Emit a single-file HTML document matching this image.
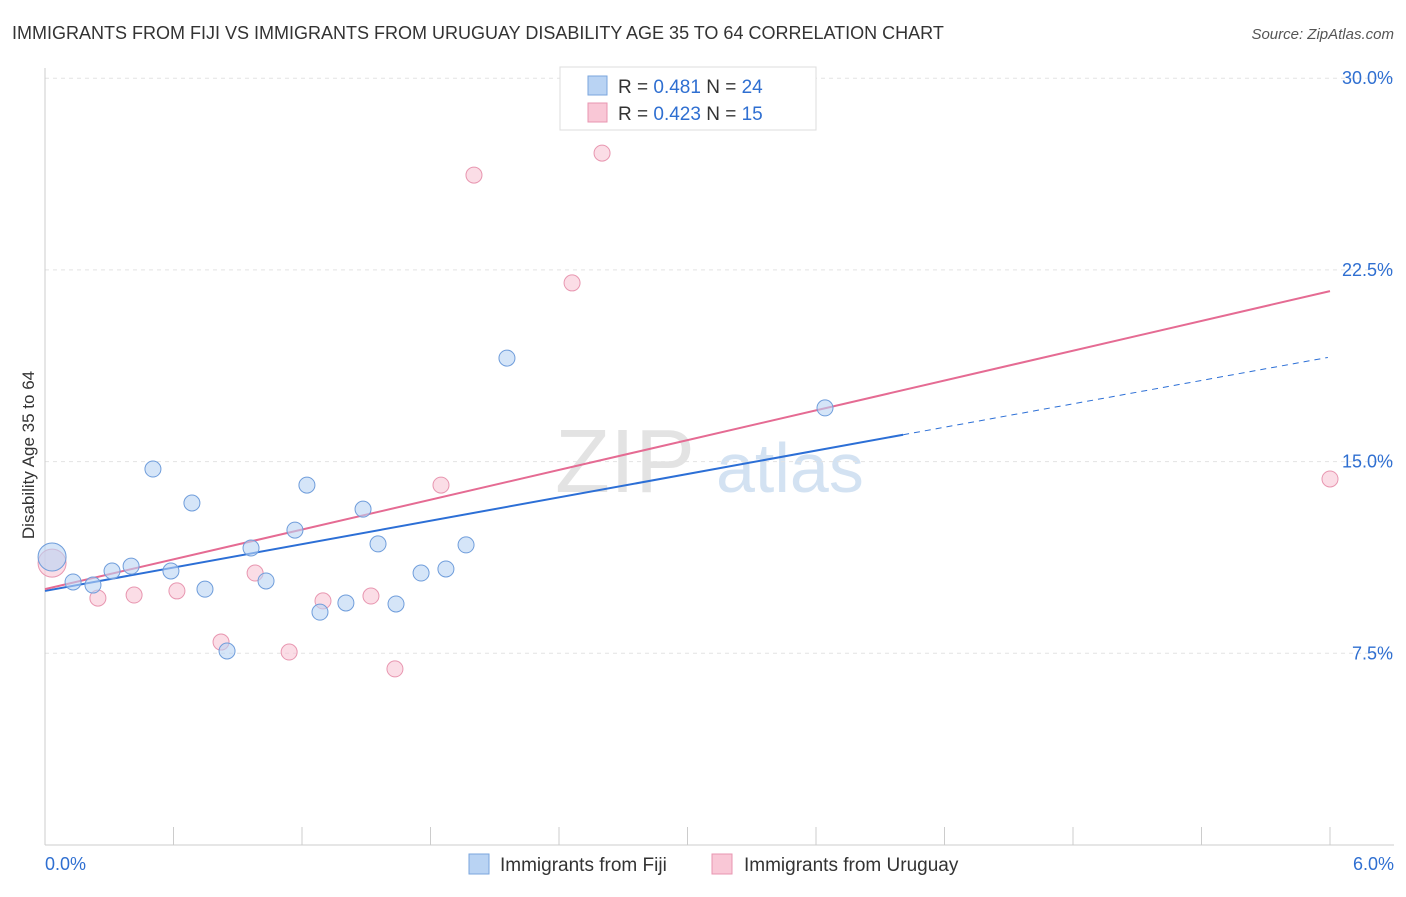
<!DOCTYPE html>
<html><head><meta charset="utf-8"><style>
body{margin:0;background:#fff;font-family:"Liberation Sans",sans-serif;}
svg text{font-family:"Liberation Sans",sans-serif;}
</style></head><body>
<svg id="c" width="1406" height="892">
<text x="12" y="39" font-size="18" fill="#333">IMMIGRANTS FROM FIJI VS IMMIGRANTS FROM URUGUAY DISABILITY AGE 35 TO 64 CORRELATION CHART</text>
<text x="1394" y="39" font-size="15" fill="#555" text-anchor="end" font-style="italic">Source: ZipAtlas.com</text>
<text x="34" y="455" font-size="17" fill="#333" text-anchor="middle" transform="rotate(-90 34 455)">Disability Age 35 to 64</text>
<g><text x="555" y="492" font-size="90" fill="#ddd" font-family="Liberation Serif" opacity="0.8">ZIP</text><text x="716" y="492" font-size="70" fill="#c9dcf0" opacity="0.8">atlas</text></g>
<g id="grid"></g><g id="axes"></g><g id="lines"></g><g id="pts"></g>
<g>
<rect x="560" y="67" width="256" height="63" fill="#fff" stroke="#ddd"/>
<rect x="588" y="76" width="19" height="19" fill="#b9d3f3" stroke="#7aa6de"/>
<text x="618" y="93" font-size="19" fill="#333">R = <tspan fill="#2f6fd1">0.481</tspan>   N = <tspan fill="#2f6fd1">24</tspan></text>
<rect x="588" y="103" width="19" height="19" fill="#f9c7d6" stroke="#e896b0"/>
<text x="618" y="120" font-size="19" fill="#333">R = <tspan fill="#2f6fd1">0.423</tspan>   N = <tspan fill="#2f6fd1"> 15</tspan></text>
</g>
<g>
<rect x="469" y="854" width="20" height="20" fill="#b9d3f3" stroke="#7aa6de"/>
<text x="500" y="871" font-size="19" fill="#333">Immigrants from Fiji</text>
<rect x="712" y="854" width="20" height="20" fill="#f9c7d6" stroke="#e896b0"/>
<text x="744" y="871" font-size="19" fill="#333">Immigrants from Uruguay</text>
</g>
</svg>
<script>
const fijiX=[0.033,0.131,0.224,0.313,0.402,0.504,0.588,0.686,0.747,0.850,0.962,1.032,1.167,1.223,1.284,1.405,1.485,1.555,1.639,1.756,1.872,1.966,2.157,3.642];
const fijiY=[11.27,10.29,10.17,10.72,10.91,14.71,10.72,13.38,10.01,7.59,11.62,10.33,12.32,14.08,9.11,9.47,13.14,11.78,9.43,10.64,10.80,11.74,19.05,17.10];
const uruX=[0.033,0.247,0.416,0.616,0.822,0.981,1.140,1.298,1.522,1.634,1.849,2.003,2.461,2.601,6.0];
const uruY=[11.03,9.66,9.78,9.94,7.94,10.64,7.55,9.55,9.74,6.89,14.08,26.21,21.99,27.07,14.32];
const yTicks=[7.5,15,22.5,30];
const yTickLabels=["7.5%","15.0%","22.5%","30.0%"];
const fijiTrend=[9.94,19.09], uruTrend=[10.01,21.67];
const NS="http://www.w3.org/2000/svg";
const sx=v=>45+v/6*1285, sy=v=>845-v/7.5*191.7;
function mk(p,t,a){const e=document.createElementNS(NS,t);for(const k in a)e.setAttribute(k,a[k]);document.getElementById(p).appendChild(e);return e;}
yTicks.forEach((t,i)=>{
 const l=mk('grid','line',{x1:45,x2:1394,y1:sy(t),y2:sy(t),stroke:'#e3e3e3','stroke-dasharray':'4,4'});
 
 
 const tx=mk('grid','text',{x:1393,y:sy(t)+6,'font-size':18,fill:'#2f6fd1','text-anchor':'end'});tx.textContent=yTickLabels[i];
 
 
});
mk('axes','line',{x1:45,x2:45,y1:68,y2:845,stroke:'#ccc'});
mk('axes','line',{x1:45,x2:1394,y1:845,y2:845,stroke:'#ccc'});
for(let i=0;i<=10;i++){const t=mk('axes','line',{x1:sx(i*0.6),x2:sx(i*0.6),y1:827,y2:845,stroke:'#ccc'});}
let a=mk('axes','text',{x:45,y:870,'font-size':18,fill:'#2f6fd1'});a.textContent="0.0%";


a=mk('axes','text',{x:1394,y:870,'font-size':18,fill:'#2f6fd1','text-anchor':'end'});a.textContent="6.0%";


const lb=v=>fijiTrend[0]+(fijiTrend[1]-fijiTrend[0])*v/6, lp=v=>uruTrend[0]+(uruTrend[1]-uruTrend[0])*v/6;
let L=mk('lines','line',{x1:sx(0),y1:sy(lb(0)),x2:sx(4.007),y2:sy(lb(4.007)),stroke:'#2c6fd6','stroke-width':2});

L=mk('lines','line',{x1:sx(4.007),y1:sy(lb(4.007)),x2:sx(5.99),y2:sy(lb(5.99)),stroke:'#2c6fd6','stroke-width':1,'stroke-dasharray':'6,5'});

L=mk('lines','line',{x1:sx(0),y1:sy(lp(0)),x2:sx(6),y2:sy(lp(6)),stroke:'#e56b93','stroke-width':2});

function pts(X,Y,f,s,n){X.forEach((x,i)=>{const r=i==0?14:8;const c=mk('pts','circle',{cx:sx(x),cy:sy(Y[i]),r:r,fill:f,'fill-opacity':0.6,stroke:s,'stroke-width':1});

});}
pts(uruX,uruY,'#f9c7d6','#e896b0','uruguay-point');
pts(fijiX,fijiY,'#b9d3f3','#6f9ddb','fiji-point');
</script>
</body></html>
